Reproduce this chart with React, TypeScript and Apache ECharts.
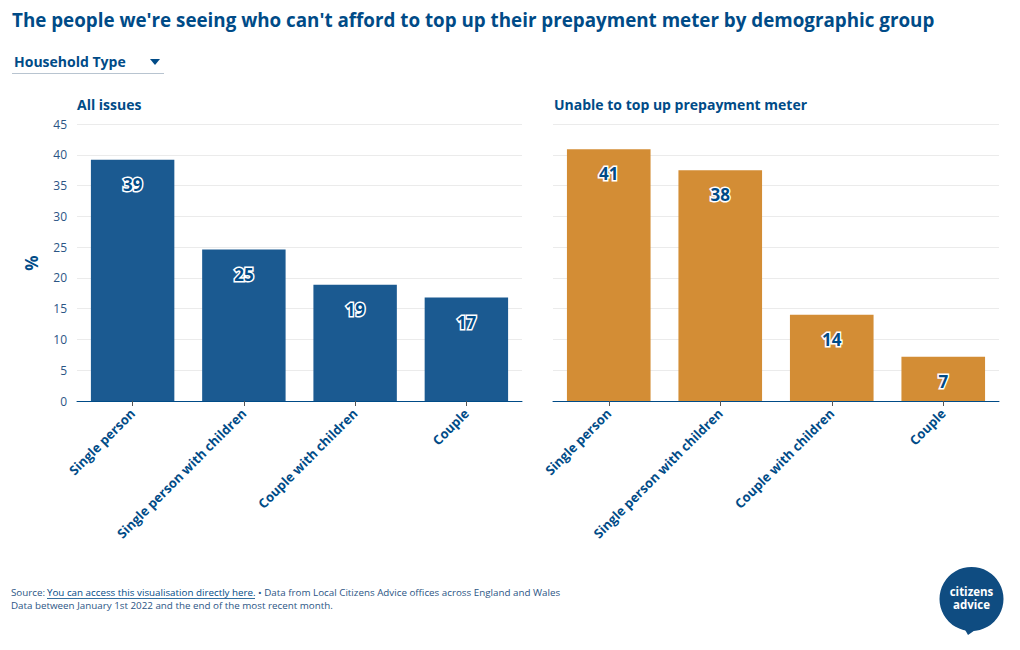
import React, { useEffect, useRef } from "react";
import * as echarts from "echarts";

const categories = ["Single person", "Single person with children", "Couple with children", "Couple"];
const allIssues = [39.2, 24.6, 18.9, 16.8];
const unableToTopUp = [40.9, 37.5, 14.0, 7.2];
const yTicks = { min: 0, max: 45, interval: 5 };

const DARK = "#004b87";
const FONT = "Open Sans";

export default function App() {
  const ref = useRef<HTMLDivElement>(null);
  useEffect(() => {
    document.body.style.margin = "0";
    const chart = echarts.init(ref.current!, null, { renderer: "svg" });
    const labelStyle = {
      show: true,
      position: "insideTop" as const,
      distance: 16,
      color: DARK,
      fontFamily: FONT,
      fontWeight: "bold" as const,
      fontSize: 17,
      textBorderColor: "#ffffff",
      textBorderWidth: 3,
      formatter: (p: any) => String(Math.round(p.value)),
    };
    const xAxisBase = {
      type: "category" as const,
      data: categories,
      axisLine: { lineStyle: { color: DARK, width: 1 } },
      axisTick: { show: true, alignWithLabel: true, length: 5, lineStyle: { color: "#555" } },
      axisLabel: {
        rotate: 45,
        interval: 0,
        color: DARK,
        fontFamily: FONT,
        fontWeight: "bold" as const,
        fontSize: 13,
        margin: 10,
      },
    };
    const yAxisBase = {
      type: "value" as const,
      ...yTicks,
      splitLine: { lineStyle: { color: "#ebebeb" } },
      axisLine: { show: false },
      axisTick: { show: false },
    };
    chart.setOption({
      animation: false,
      backgroundColor: "#ffffff",
      grid: [
        { left: 77, right: 498, top: 124, bottom: 249 },
        { left: 553, right: 21, top: 124, bottom: 249 },
      ],
      xAxis: [
        { ...xAxisBase, gridIndex: 0 },
        { ...xAxisBase, gridIndex: 1 },
      ],
      yAxis: [
        {
          ...yAxisBase,
          gridIndex: 0,
          axisLabel: { color: "#2b5585", fontFamily: FONT, fontSize: 12, margin: 10 },
        },
        { ...yAxisBase, gridIndex: 1, axisLabel: { show: false } },
      ],
      series: [
        {
          type: "bar",
          xAxisIndex: 0,
          yAxisIndex: 0,
          data: allIssues,
          barWidth: "75%",
          itemStyle: { color: "#1b5a91" },
          label: labelStyle,
        },
        {
          type: "bar",
          xAxisIndex: 1,
          yAxisIndex: 1,
          data: unableToTopUp,
          barWidth: "75%",
          itemStyle: { color: "#d38d35" },
          label: labelStyle,
        },
      ],
      graphic: [
        {
          type: "text",
          left: 12,
          top: 10,
          style: {
            text: "The people we're seeing who can't afford to top up their prepayment meter by demographic group",
            fill: DARK,
            font: `bold 18.8px '${FONT}'`,
          },
        },
        {
          type: "text",
          left: 14,
          top: 54,
          style: { text: "Household Type", fill: DARK, font: `bold 14px '${FONT}'` },
        },
        {
          type: "polygon",
          shape: { points: [[150, 59], [160, 59], [155, 65]] },
          style: { fill: DARK },
        },
        {
          type: "line",
          shape: { x1: 12, y1: 73.5, x2: 164, y2: 73.5 },
          style: { stroke: "#b8c4d0", lineWidth: 1 },
        },
        {
          type: "text",
          left: 77,
          top: 97,
          style: { text: "All issues", fill: DARK, font: `bold 14px '${FONT}'` },
        },
        {
          type: "text",
          left: 554,
          top: 97,
          style: { text: "Unable to top up prepayment meter", fill: DARK, font: `bold 14px '${FONT}'` },
        },
        {
          type: "text",
          x: 31,
          y: 263,
          rotation: Math.PI / 2,
          style: {
            text: "%",
            fill: DARK,
            font: `bold 17px '${FONT}'`,
            align: "center",
            verticalAlign: "middle",
          },
        },
        {
          type: "text",
          left: 11,
          top: 587,
          style: { text: "Source: ", fill: "#2b5585", font: `9.8px '${FONT}'` },
        },
        {
          type: "text",
          left: 47,
          top: 587,
          style: { text: "You can access this visualisation directly here.", fill: DARK, font: `9.8px '${FONT}'` },
        },
        {
          type: "line",
          shape: { x1: 47, y1: 598.5, x2: 255, y2: 598.5 },
          style: { stroke: DARK, lineWidth: 0.8 },
        },
        {
          type: "text",
          left: 258,
          top: 587,
          style: {
            text: "• Data from Local Citizens Advice offices across England and Wales",
            fill: "#2b5585",
            font: `9.8px '${FONT}'`,
          },
        },
        {
          type: "text",
          left: 11,
          top: 600,
          style: {
            text: "Data between January 1st 2022 and the end of the most recent month.",
            fill: "#2b5585",
            font: `9.8px '${FONT}'`,
          },
        },
        {
          type: "circle",
          shape: { cx: 971.5, cy: 599, r: 32 },
          style: { fill: "#0f4c81" },
        },
        {
          type: "polygon",
          shape: { points: [[964, 628], [978, 628], [968, 635]] },
          style: { fill: "#0f4c81" },
        },
        {
          type: "text",
          x: 971.5,
          y: 591,
          style: {
            text: "citizens",
            fill: "#ffffff",
            font: `bold 11.5px '${FONT}'`,
            align: "center",
            verticalAlign: "middle",
          },
        },
        {
          type: "text",
          x: 971.5,
          y: 604,
          style: {
            text: "advice",
            fill: "#ffffff",
            font: `bold 11.5px '${FONT}'`,
            align: "center",
            verticalAlign: "middle",
          },
        },
      ],
    });
    return () => chart.dispose();
  }, []);
  return <div ref={ref} style={{ width: 1020, height: 650 }} />;
}
